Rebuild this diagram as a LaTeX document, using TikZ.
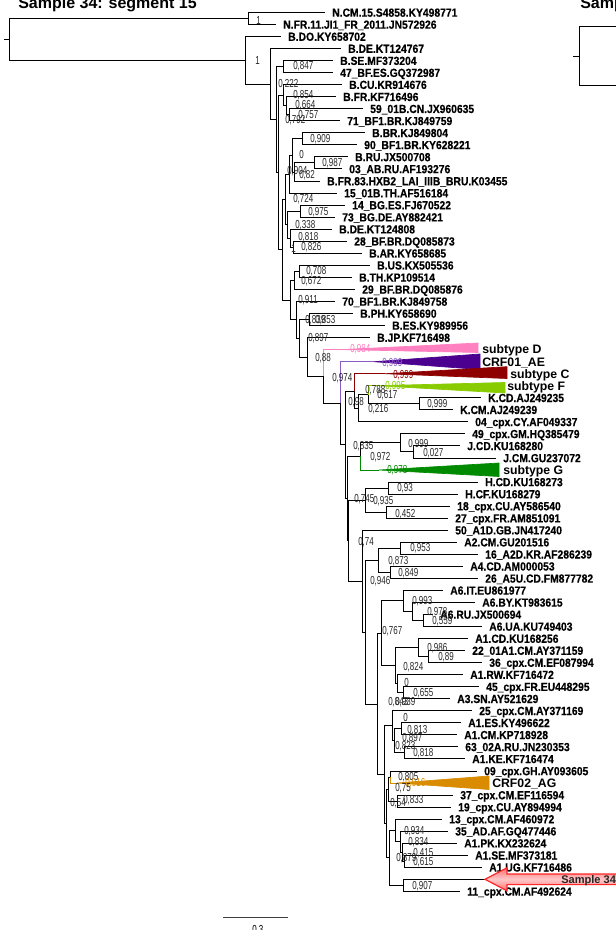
\documentclass[tikz,border=0pt]{standalone}
\usepackage{fontspec}
\setmainfont{Liberation Sans}
\newfontfamily\leaffont[FakeStretch=0.88,BoldFeatures={FakeBold=0.4}]{Liberation Sans}
\newfontfamily\nodefont[FakeStretch=0.69]{Liberation Sans}
\definecolor{cD}{HTML}{FF80C0}
\definecolor{cAE}{HTML}{4B0090}
\definecolor{cAEl}{HTML}{8A5CC8}
\definecolor{cC}{HTML}{8E0000}
\definecolor{cF}{HTML}{88CC00}
\definecolor{cG}{HTML}{008A00}
\definecolor{cAG}{HTML}{D98C00}
\tikzset{
  br/.style={draw=black, line width=0.75pt},
  leaf/.style={anchor=base west, inner sep=0pt, font=\leaffont\bfseries\fontsize{8.8}{9}\selectfont},
  nl/.style={anchor=base west, inner sep=0pt, font=\nodefont\fontsize{8.7}{9}\selectfont},
  sub/.style={anchor=base west, inner sep=0pt, font=\bfseries\fontsize{9.2}{10}\selectfont},
  ttl/.style={anchor=base west, inner sep=0pt, font=\bfseries\fontsize{12}{13}\selectfont},
  samp/.style={anchor=base west, inner sep=0pt, font=\bfseries\fontsize{8.3}{9}\selectfont, text=black!85},
  tri/.style={line width=0.5pt, line join=miter},
}
\newcounter{nlc}
\newcommand\nl[4][black!85]{\stepcounter{nlc}\node[nl,text=#1] (nl\arabic{nlc}) at (#2,#3+4.15) {#4};}
\newcommand\lf[4]{\coordinate (t#1) at (#2,#3); \node[leaf] (L#1) at (#2+7,#3+4.2) {#4};}
\newcommand\el[2]{\draw[br] (#1) |- (#2);}
\newcommand\sublab[4]{\node[sub] (#1) at (#2,#3+4.3) {#4};}
\begin{document}
\begin{tikzpicture}[x=0.75pt,y=-0.75pt]
\useasboundingbox (0,0) rectangle (616,930);
\clip (0,0) rectangle (616,930);

% titles
\node[ttl] (title) at (18,8.5) {Sample 34: segment 15};
\node[ttl] (title2) at (580,8.5) {Samp};

% leaves
\lf{1}{325}{12.5}{N.CM.15.S4858.KY498771}
\lf{2}{276}{24.5}{N.FR.11.JI1\_FR\_2011.JN572926}
\lf{3}{281}{36.6}{B.DO.KY658702}
\lf{4}{341}{48.6}{B.DE.KT124767}
\lf{5}{333}{60.7}{B.SE.MF373204}
\lf{6}{333}{72.7}{47\_BF.ES.GQ372987}
\lf{7}{342}{84.7}{B.CU.KR914676}
\lf{8}{336}{96.8}{B.FR.KF716496}
\lf{9}{363}{108.8}{59\_01B.CN.JX960635}
\lf{10}{340}{120.9}{71\_BF1.BR.KJ849759}
\lf{11}{365}{132.9}{B.BR.KJ849804}
\lf{12}{357}{144.9}{90\_BF1.BR.KY628221}
\lf{13}{348}{157.0}{B.RU.JX500708}
\lf{14}{342}{169.0}{03\_AB.RU.AF193276}
\lf{15}{320}{181.1}{B.FR.83.HXB2\_LAI\_IIIB\_BRU.K03455}
\lf{16}{337}{193.1}{15\_01B.TH.AF516184}
\lf{17}{345}{205.1}{14\_BG.ES.FJ670522}
\lf{18}{335}{217.2}{73\_BG.DE.AY882421}
\lf{19}{332}{229.2}{B.DE.KT124808}
\lf{20}{347}{241.3}{28\_BF.BR.DQ085873}
\lf{21}{362}{253.3}{B.AR.KY658685}
\lf{22}{370}{265.3}{B.US.KX505536}
\lf{23}{352}{277.4}{B.TH.KP109514}
\lf{24}{355}{289.4}{29\_BF.BR.DQ085876}
\lf{25}{335}{301.5}{70\_BF1.BR.KJ849758}
\lf{26}{353}{313.5}{B.PH.KY658690}
\lf{27}{385}{325.5}{B.ES.KY989956}
\lf{28}{370}{337.6}{B.JP.KF716498}
\lf{33}{481}{397.8}{K.CD.AJ249235}
\lf{34}{453}{409.8}{K.CM.AJ249239}
\lf{35}{468}{421.9}{04\_cpx.CY.AF049337}
\lf{36}{465}{433.9}{49\_cpx.GM.HQ385479}
\lf{37}{460}{445.9}{J.CD.KU168280}
\lf{38}{496}{458.0}{J.CM.GU237072}
\lf{40}{478}{482.0}{H.CD.KU168273}
\lf{41}{458}{494.1}{H.CF.KU168279}
\lf{42}{450}{506.1}{18\_cpx.CU.AY586540}
\lf{43}{448}{518.2}{27\_cpx.FR.AM851091}
\lf{44}{448}{530.2}{50\_A1D.GB.JN417240}
\lf{45}{457}{542.2}{A2.CM.GU201516}
\lf{46}{478}{554.3}{16\_A2D.KR.AF286239}
\lf{47}{463}{566.3}{A4.CD.AM000053}
\lf{48}{478}{578.4}{26\_A5U.CD.FM877782}
\lf{49}{443}{590.4}{A6.IT.EU861977}
\lf{50}{475}{602.4}{A6.BY.KT983615}
\lf{51}{433}{614.5}{A6.RU.JX500694}
\lf{52}{482}{626.5}{A6.UA.KU749403}
\lf{53}{468}{638.6}{A1.CD.KU168256}
\lf{54}{465}{650.6}{22\_01A1.CM.AY371159}
\lf{55}{482}{662.6}{36\_cpx.CM.EF087994}
\lf{56}{463}{674.7}{A1.RW.KF716472}
\lf{57}{479}{686.7}{45\_cpx.FR.EU448295}
\lf{58}{450}{698.8}{A3.SN.AY521629}
\lf{59}{472}{710.8}{25\_cpx.CM.AY371169}
\lf{60}{461}{722.8}{A1.ES.KY496622}
\lf{61}{457}{734.9}{A1.CM.KP718928}
\lf{62}{458}{746.9}{63\_02A.RU.JN230353}
\lf{63}{465}{758.9}{A1.KE.KF716474}
\lf{64}{477}{771.0}{09\_cpx.GH.AY093605}
\lf{66}{453}{795.1}{37\_cpx.CM.EF116594}
\lf{67}{451}{807.1}{19\_cpx.CU.AY894994}
\lf{68}{442}{819.1}{13\_cpx.CM.AF460972}
\lf{69}{448}{831.2}{35\_AD.AF.GQ477446}
\lf{70}{457}{843.2}{A1.PK.KX232624}
\lf{71}{468}{855.3}{A1.SE.MF373181}
\lf{72}{482}{867.3}{A1.UG.KF716486}
\coordinate (t73) at (485,879.3);
\lf{74}{460}{891.4}{11\_cpx.CM.AF492624}

% collapsed clade apexes
\coordinate (aD) at (342,349.6);
\coordinate (aAE) at (374,361.7);
\coordinate (aC) at (385,373.7);
\coordinate (aF) at (377,385.7);
\coordinate (aG) at (379,470.0);
\coordinate (aAG) at (397,783.0);

% internal nodes
\coordinate (tick) at (4,39.43);
\coordinate (nR) at (9,39.43);
\coordinate (nN) at (248,18.5);
\coordinate (nB) at (245,60.36);
\coordinate (nA) at (270,84.11);
\coordinate (n792) at (276,119.62);
\coordinate (p847) at (283,66.7);
\coordinate (n904) at (278,172.54);
\coordinate (n854) at (283,95.26);
\coordinate (n664) at (286,105.83);
\coordinate (n757) at (289,114.85);
\coordinate (n1) at (282,249.82);
\coordinate (n724) at (285,199.5);
\coordinate (n16) at (289,174.29);
\coordinate (n0c) at (292,155.48);
\coordinate (n909) at (302,138.9);
\coordinate (n82) at (294,172.05);
\coordinate (n987) at (314,163.0);
\coordinate (n338) at (287,224.7);
\coordinate (n975) at (300,211.15);
\coordinate (n818b) at (290,238.25);
\coordinate (n826) at (293,247.3);
\coordinate (n911) at (290,300.13);
\coordinate (n672) at (294,280.38);
\coordinate (n708) at (299,271.35);
\coordinate (n839) at (296,319.88);
\coordinate (n897) at (299,338.26);
\coordinate (nPH) at (309,319.5);
\coordinate (n88) at (307,357.01);
\coordinate (n974) at (323,376.42);
\coordinate (n98) at (340,403.24);
\coordinate (n835) at (345,444.78);
\coordinate (nCF) at (354,391.0);
\coordinate (n04) at (358,408.33);
\coordinate (n617) at (368,394.75);
\coordinate (nK) at (419,403.8);
\coordinate (n745) at (347,498.55);
\coordinate (n972) at (360,456.46);
\coordinate (n999) at (400,442.93);
\coordinate (n027) at (413,451.95);
\coordinate (n74) at (348,540.64);
\coordinate (n935) at (365,500.1);
\coordinate (n93) at (388,488.05);
\coordinate (n452) at (386,512.15);
\coordinate (n946) at (362,581.18);
\coordinate (n767) at (365,632.15);
\coordinate (n873) at (378,560.3);
\coordinate (n953) at (400,548.25);
\coordinate (n849) at (390,572.35);
\coordinate (n939) at (377,704.0);
\coordinate (naA) at (381,633.3);
\coordinate (n993) at (403,600.93);
\coordinate (n978) at (412,611.45);
\coordinate (n559) at (423,620.5);
\coordinate (n824) at (395,665.66);
\coordinate (n986) at (418,647.6);
\coordinate (n89) at (428,656.6);
\coordinate (n0a) at (397,683.73);
\coordinate (n655) at (403,692.75);
\coordinate (nlow) at (384,774.66);
\coordinate (n0b) at (392,725.84);
\coordinate (n897b) at (394,740.88);
\coordinate (n813) at (401,728.85);
\coordinate (n818) at (404,752.9);
\coordinate (n54) at (386,823.47);
\coordinate (n75) at (388,789.05);
\coordinate (n805) at (390,777.0);
\coordinate (n833) at (397,801.1);
\coordinate (n879) at (389,857.88);
\coordinate (n934) at (395,830.41);
\coordinate (n834) at (400,841.73);
\coordinate (n415) at (402,852.25);
\coordinate (n615) at (404,861.3);
\coordinate (n907) at (403,885.35);

% black branches
\draw[br] (tick) -- (nR);
\el{nR}{nN} \el{nR}{nB}
\el{nN}{t1} \el{nN}{t2}
\el{nB}{t3} \el{nB}{nA}
\el{nA}{t4} \el{nA}{n792}
\el{n792}{p847} \el{n792}{n904}
\el{p847}{t5} \el{p847}{t6}
\el{n904}{n854} \el{n904}{n1}
\el{n854}{t7} \el{n854}{n664}
\el{n664}{t8} \el{n664}{n757}
\el{n757}{t9} \el{n757}{t10}
\el{n1}{n724} \el{n1}{n911}
\el{n724}{n16} \el{n724}{n338}
\el{n16}{n0c} \el{n16}{t16}
\el{n0c}{n909} \el{n0c}{n82}
\el{n909}{t11} \el{n909}{t12}
\el{n82}{n987} \el{n82}{t15}
\el{n987}{t13} \el{n987}{t14}
\el{n338}{n975} \el{n338}{n818b}
\el{n975}{t17} \el{n975}{t18}
\el{n818b}{t19} \el{n818b}{n826}
\el{n826}{t20} \el{n826}{t21}
\el{n911}{n672} \el{n911}{n839}
\el{n672}{n708} \el{n672}{t24}
\el{n708}{t22} \el{n708}{t23}
\el{n839}{t25} \el{n839}{n897}
\el{n897}{nPH} \el{n897}{n88}
\el{nPH}{t26} \el{nPH}{t27}
\el{n88}{t28} \el{n88}{n974}
\el{n974}{n98}
\el{n98}{n835}
\el{n835}{nCF} \el{n835}{n745}
\el{nCF}{n04}
\el{n04}{n617} \el{n04}{t35}
\el{n617}{nK}
\el{nK}{t33} \el{nK}{t34}
\el{n745}{n972} \el{n745}{n74}
\el{n972}{n999}
\el{n999}{t36} \el{n999}{n027}
\el{n027}{t37} \el{n027}{t38}
\el{n74}{n935} \el{n74}{n946}
\el{n935}{n93} \el{n935}{n452}
\el{n93}{t40} \el{n93}{t41}
\el{n452}{t42} \el{n452}{t43}
\el{n946}{t44} \el{n946}{n767}
\el{n767}{n873} \el{n767}{n939}
\el{n873}{n953} \el{n873}{n849}
\el{n953}{t45} \el{n953}{t46}
\el{n849}{t47} \el{n849}{t48}
\el{n939}{naA} \el{n939}{nlow}
\el{naA}{n993} \el{naA}{n824}
\el{n993}{t49} \el{n993}{n978}
\el{n978}{t50} \el{n978}{n559}
\el{n559}{t51} \el{n559}{t52}
\el{n824}{n986} \el{n824}{n0a}
\el{n986}{t53} \el{n986}{n89}
\el{n89}{t54} \el{n89}{t55}
\el{n0a}{t56} \el{n0a}{n655}
\el{n655}{t57} \el{n655}{t58}
\el{nlow}{n0b} \el{nlow}{n54}
\el{n0b}{t59} \el{n0b}{n897b}
\el{n897b}{n813} \el{n897b}{n818}
\el{n813}{t60} \el{n813}{t61}
\el{n818}{t62} \el{n818}{t63}
\el{n54}{n75} \el{n54}{n879}
\el{n75}{n805} \el{n75}{n833}
\el{n805}{t64}
\el{n833}{t66} \el{n833}{t67}
\el{n879}{n934} \el{n879}{n907}
\el{n934}{t68} \el{n934}{n834}
\el{n834}{t69} \el{n834}{n415}
\el{n415}{t70} \el{n415}{n615}
\el{n615}{t71} \el{n615}{t72}
\el{n907}{t73} \el{n907}{t74}

% coloured branches and collapsed clades
\draw[br,cD] (n974) |- (aD);
\filldraw[tri,draw=cD,fill=cD] (aD) -- (478,343) -- (478,352.5) -- cycle;
\draw[br,cAEl] (n98) |- (aAE);
\filldraw[tri,draw=cAE,fill=cAE] (aAE) -- (480,354) -- (480,369.5) -- cycle;
\draw[br,cC] (nCF) |- (aC);
\filldraw[tri,draw=cC,fill=cC] (aC) -- (507,366.7) -- (507,378.5) -- cycle;
\draw[br,cF] (n617) |- (aF);
\filldraw[tri,draw=cF,fill=cF] (aF) -- (505,382.5) -- (505,393) -- cycle;
\draw[br,cG] (n972) |- (aG);
\filldraw[tri,draw=cG,fill=cG] (aG) -- (499,463) -- (499,476.5) -- cycle;
\draw[br,cAG] (n805) |- (aAG);
\filldraw[tri,draw=cAG,fill=cAG] (aAG) -- (489,776) -- (489,789.5) -- cycle;

\sublab{sD}{482}{349.6}{subtype D}
\sublab{sAE}{482}{361.7}{CRF01\_AE}
\sublab{sC}{510}{373.7}{subtype C}
\sublab{sF}{507}{385.7}{subtype F}
\sublab{sG}{503}{470.0}{subtype G}
\sublab{sAG}{492}{783.0}{CRF02\_AG}

% node support labels
\nl{256}{20}{1}
\nl{255}{60}{1}
\nl{293}{65}{0,847}
\nl{278}{83.5}{0,222}
\nl{293}{94.5}{0,854}
\nl{295}{104.5}{0,664}
\nl{298}{114}{0,757}
\nl{285}{119.5}{0,792}
\nl{310}{138}{0,909}
\nl{299}{154.5}{0}
\nl{322}{162}{0,987}
\nl{287}{170}{0,904}
\nl{299}{174}{0,82}
\nl{293}{198.5}{0,724}
\nl{308}{211}{0,975}
\nl{295}{224.5}{0,338}
\nl{298}{236.5}{0,818}
\nl{291}{248}{1}
\nl{301}{246}{0,826}
\nl{306}{270.5}{0,708}
\nl{301}{280.5}{0,672}
\nl{298}{299.5}{0,911}
\nl{305}{319.5}{0,839}
\nl{315}{319.5}{0,853}
\nl{308}{337.5}{0,897}
\nl[cD]{350}{348.5}{0,984}
\nl{315}{357}{0,88}
\nl[cAEl]{382}{362}{0,999}
\nl{332}{377}{0,974}
\nl[cC]{393}{374}{0,999}
\nl[cF]{385}{385}{0,995}
\nl{365}{389.5}{0,788}
\nl{377}{394.5}{0,617}
\nl{348}{401.5}{0,98}
\nl{368}{408.5}{0,216}
\nl{427}{403.5}{0,999}
\nl{408}{443}{0,999}
\nl{353}{445}{0,835}
\nl{423}{452}{0,027}
\nl{370}{456.5}{0,972}
\nl[cG]{387}{469.5}{0,978}
\nl{397}{487}{0,93}
\nl{354}{498}{0,745}
\nl{373}{500}{0,935}
\nl{395}{513.5}{0,452}
\nl{358}{541}{0,74}
\nl{410}{547}{0,953}
\nl{388}{560}{0,873}
\nl{398}{572}{0,849}
\nl{370}{580.5}{0,946}
\nl{412}{600}{0,993}
\nl{427}{611}{0,978}
\nl{432}{620.5}{0,559}
\nl{382}{630}{0,767}
\nl{427}{647}{0,986}
\nl{438}{656}{0,89}
\nl{403}{666}{0,824}
\nl{404}{682.5}{0}
\nl{413}{692.5}{0,655}
\nl{388}{701}{0,843}
\nl{395}{701}{0,939}
\nl{403}{717.5}{0}
\nl{407}{729}{0,813}
\nl{402}{737}{0,897}
\nl{395}{745}{0,823}
\nl{413}{752}{0,818}
\nl{398}{776}{0,805}
\nl[cAG]{405}{782}{0,916}
\nl{395}{787.5}{0,75}
\nl{390}{802}{0,54}
\nl{403}{799.5}{0,833}
\nl{404}{830.5}{0,934}
\nl{408}{841.5}{0,834}
\nl{413}{852}{0,415}
\nl{396}{857.5}{0,879}
\nl{413}{861}{0,615}
\nl{412}{885}{0,907}

% Sample 34 arrow
\shadedraw[top color=red!55, bottom color=red!55, middle color=red!22, draw=red!85, line width=0.9pt]
  (t73) -- (507,867.8) -- (507,874) -- (630,874) -- (630,884.6) -- (507,884.6) -- (507,890.8) -- cycle;
\node[samp] (s34) at (561,883.2) {Sample 34};

% second tree fragment on the right
\coordinate (rr) at (579,56.5);
\coordinate (rrT) at (573,56.5);
\coordinate (rr1) at (625,27);
\coordinate (rr2) at (625,86);
\draw[br] (rrT) -- (rr);
\draw[br] (rr) |- (rr1);
\draw[br] (rr) |- (rr2);

% scale bar
\coordinate (sbA) at (223,917);
\coordinate (sbB) at (288,917);
\draw[br,black!75] (sbA) -- (sbB);
\node[nl] (sbl) at (252,933.2) {0.3};
\end{tikzpicture}
\end{document}
